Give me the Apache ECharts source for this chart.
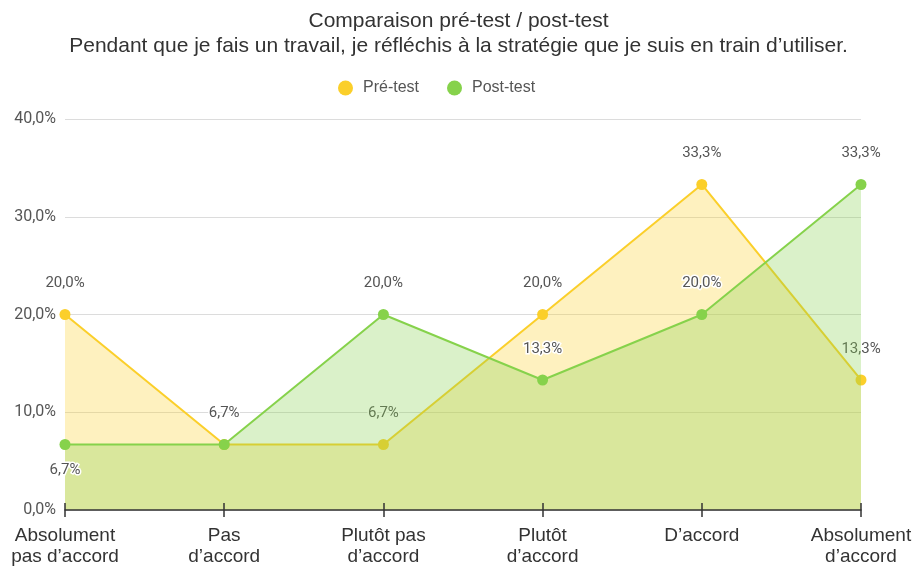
<!DOCTYPE html>
<html>
<head>
<meta charset="utf-8">
<script src="https://cdn.jsdelivr.net/npm/echarts@6/dist/echarts.min.js"></script>
<style>
  html, body { margin: 0; padding: 0; background: #fff; }
  #chart { width: 917px; height: 567px; }
</style>
</head>
<body>
<div id="chart"></div>
<script>
// Response categories (x axis)
const categories = [
  'Absolument\npas d\u2019accord',
  'Pas\nd\u2019accord',
  'Plutôt pas\nd\u2019accord',
  'Plutôt\nd\u2019accord',
  'D\u2019accord',
  'Absolument\nd\u2019accord'
];
// Percentages per response
const preTest = [20.0, 6.7, 6.7, 20.0, 33.3, 13.3];
const postTest = [6.7, 6.7, 20.0, 13.3, 20.0, 33.3];
// Value axis ticks
const yTicks = [0, 10, 20, 30, 40];

const fmt = v => v.toFixed(1).replace('.', ',') + '%';
const FONT = '"Liberation Sans", Arial, sans-serif';
const NUM_FONT = 'Roboto, ' + FONT;
const YELLOW = '#fbcf2a';
const GREEN = '#86d24b';

const labelStyle = {
  show: true,
  position: 'top',
  distance: 18,
  fontFamily: NUM_FONT,
  fontSize: 15,
  color: '#555',
  textBorderColor: '#fff',
  textBorderWidth: 3,
  formatter: p => fmt(p.value)
};

const postData = postTest.map((v, i) => {
  if (i === 0) return { value: v, label: { position: 'bottom', distance: 13 } };
  if (i === 1) return { value: v, label: { show: false } };
  return v;
});

const chart = echarts.init(document.getElementById('chart'), null, { renderer: 'canvas' });
chart.setOption({
  animation: false,
  backgroundColor: '#fff',
  title: {
    text: 'Comparaison pré-test / post-test\nPendant que je fais un travail, je réfléchis à la stratégie que je suis en train d\u2019utiliser.',
    left: 'center',
    top: 4,
    textStyle: {
      fontFamily: FONT,
      fontSize: 21,
      fontWeight: 'normal',
      color: '#333',
      lineHeight: 25,
      align: 'center'
    }
  },
  legend: {
    top: 75,
    left: 333,
    icon: 'circle',
    itemWidth: 15,
    itemHeight: 15,
    itemGap: 28,
    textStyle: { fontFamily: FONT, fontSize: 16, color: '#555', padding: [0, 0, 0, 5] },
    data: ['Pré-test', 'Post-test']
  },
  grid: { left: 65, right: 56, top: 119, bottom: 55, containLabel: false },
  xAxis: [
    {
      type: 'category',
      data: categories,
      boundaryGap: false,
      axisLine: { lineStyle: { color: '#333', width: 1.5 } },
      axisTick: { show: true, alignWithLabel: true, length: 7, lineStyle: { color: '#333', width: 1.5 } },
      axisLabel: {
        interval: 0,
        margin: 15,
        fontFamily: FONT,
        fontSize: 19,
        color: '#333',
        lineHeight: 21
      },
      z: 5
    },
    {
      type: 'category',
      data: categories,
      boundaryGap: false,
      position: 'bottom',
      axisLine: { show: false },
      axisTick: { show: true, inside: true, length: 7, lineStyle: { color: '#333', width: 1.5 } },
      axisLabel: { show: false },
      z: 5
    }
  ],
  yAxis: {
    type: 'value',
    min: yTicks[0],
    max: yTicks[yTicks.length - 1],
    interval: yTicks[1] - yTicks[0],
    axisLine: { show: false },
    axisTick: { show: false },
    splitLine: { lineStyle: { color: '#dcdcdc', width: 1 } },
    axisLabel: {
      margin: 9,
      fontFamily: NUM_FONT,
      fontSize: 16,
      color: '#555',
      formatter: v => fmt(v)
    }
  },
  series: [
    {
      name: 'Pré-test',
      type: 'line',
      data: preTest,
      color: YELLOW,
      symbol: 'circle',
      symbolSize: 11,
      lineStyle: { width: 2, color: YELLOW },
      itemStyle: { color: YELLOW },
      areaStyle: { color: YELLOW, opacity: 0.3 },
      label: labelStyle,
      z: 3
    },
    {
      name: 'Post-test',
      type: 'line',
      data: postData,
      color: GREEN,
      symbol: 'circle',
      symbolSize: 11,
      lineStyle: { width: 2, color: GREEN },
      itemStyle: { color: GREEN },
      areaStyle: { color: GREEN, opacity: 0.3 },
      label: labelStyle,
      z: 4
    }
  ]
});
</script>
</body>
</html>
